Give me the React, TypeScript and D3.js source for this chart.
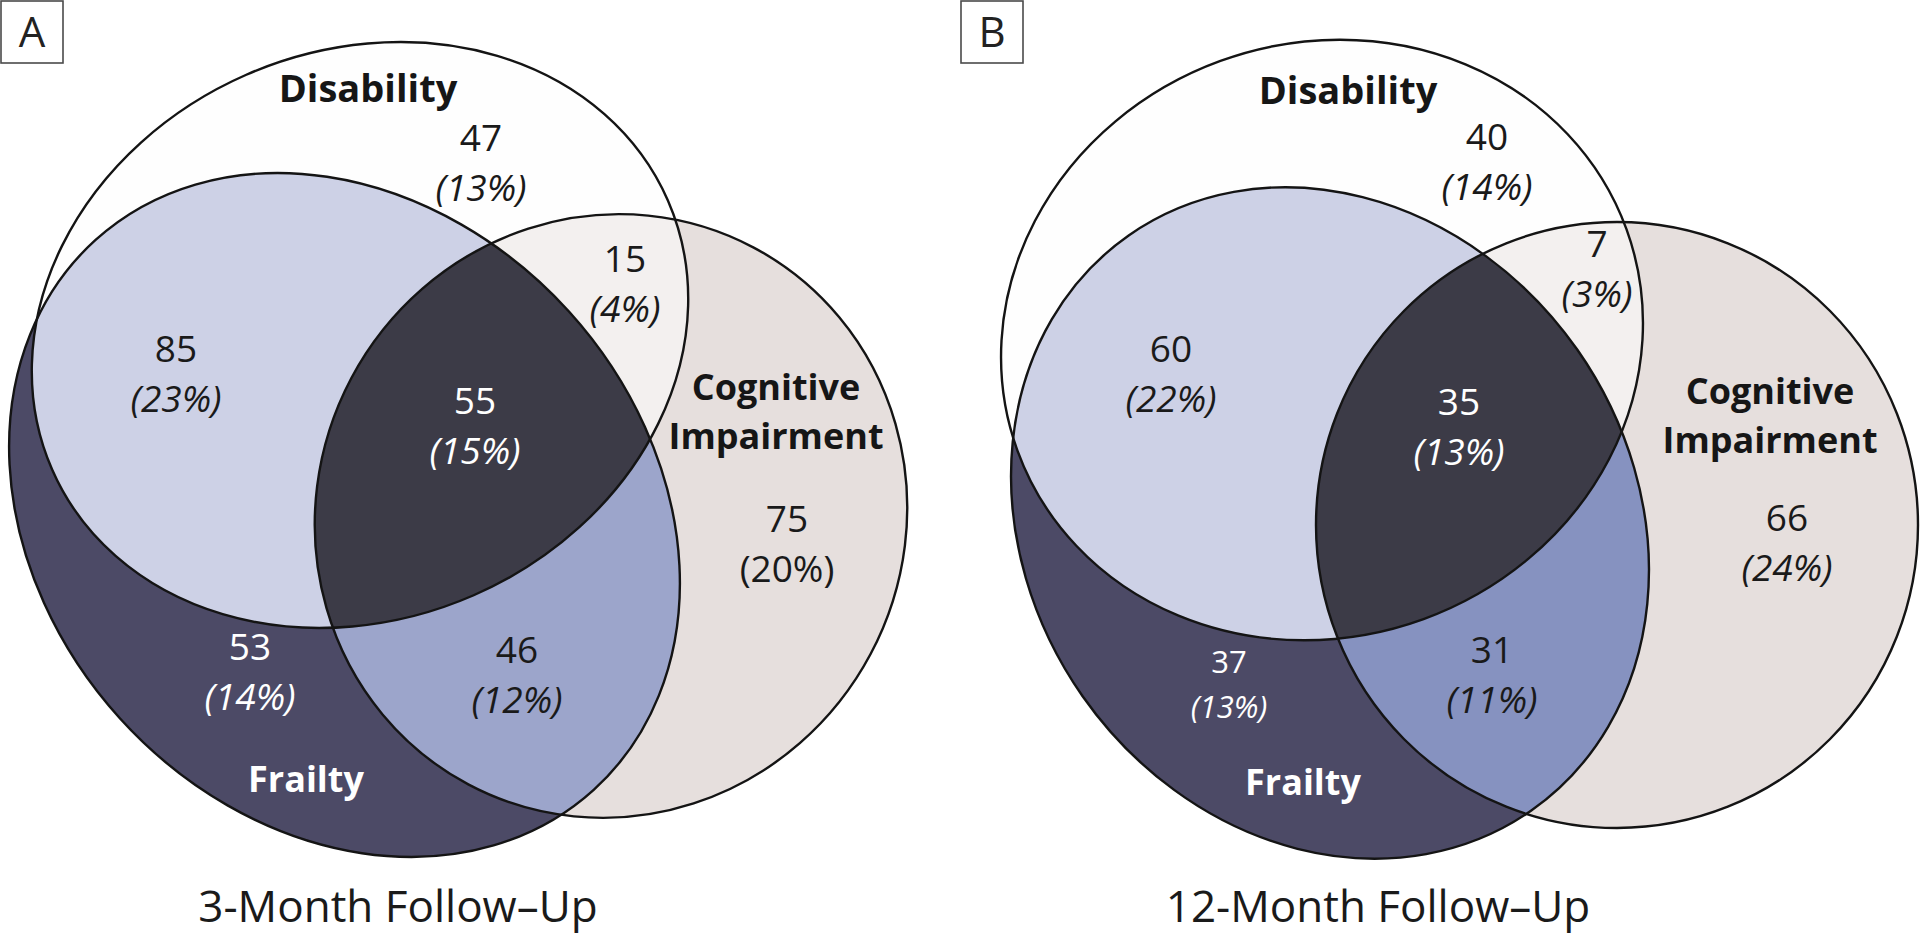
import React from "react";
import * as d3 from "d3";

// ---------- data ----------
const panelIds = ["A", "B"];
const panelTitles = ["3-Month Follow\u2013Up", "12-Month Follow\u2013Up"];
const setLabels = ["Disability", "Frailty", "Cognitive", "Impairment"];
// region order: D only, F only, C only, D∩F, D∩C, F∩C, D∩F∩C
const regionKeys = ["D", "F", "C", "DF", "DC", "FC", "DFC"];
const countsA = [47, 53, 75, 85, 15, 46, 55];
const pctA = [13, 14, 20, 23, 4, 12, 15];
const countsB = [40, 37, 66, 60, 7, 31, 35];
const pctB = [14, 13, 24, 22, 3, 11, 13];

// ---------- layout (pixels) ----------
type Ell = { cx: number; cy: number; rx: number; ry: number; rot: number };
const shapesA: Record<string, Ell> = {
  D: { cx: 360, cy: 335, rx: 336, ry: 284, rot: -23.6 },
  F: { cx: 344.5, cy: 515, rx: 371, ry: 303, rot: 47.8 },
  C: { cx: 611, cy: 516, rx: 304, ry: 294, rot: -62 },
};
const shapesB: Record<string, Ell> = {
  D: { cx: 1322, cy: 340, rx: 324, ry: 297, rot: -20 },
  F: { cx: 1330, cy: 523, rx: 351, ry: 302, rot: 55 },
  C: { cx: 1617, cy: 525, rx: 301, ry: 303, rot: 0 },
};
// label anchor (x, baseline of count) per region
const labelPosA: [number, number][] = [
  [481, 151], [250, 660], [787, 532], [176, 362], [625, 272], [517, 663], [475, 414],
];
const labelPosB: [number, number][] = [
  [1487, 150], [1229, 673], [1787, 531], [1171, 362], [1597, 257], [1492, 663], [1459, 415],
];
const setLabelPosA: [number, number][] = [[368, 102], [306, 792], [776, 400], [776, 449]];
const setLabelPosB: [number, number][] = [[1348, 104], [1303, 795], [1770, 404], [1770, 453]];
const titlePos: [number, number][] = [[398, 922], [1378, 922]];
const boxPos: [number, number][] = [[1, 1], [961, 1]];

const fillScaleA = d3
  .scaleOrdinal<string, string>()
  .domain(regionKeys)
  .range(["#fefefe", "#4c4a66", "#e6dfdd", "#cdd1e6", "#f3f0ef", "#9ca5cb", "#3c3b47"]);
const fillScaleB = d3
  .scaleOrdinal<string, string>()
  .domain(regionKeys)
  .range(["#fefefe", "#4c4a66", "#e6dfdd", "#cdd1e6", "#f3f0ef", "#8692c0", "#3c3b47"]);

const darkRegions = new Set(["F", "DFC"]);
const uprightPct = new Set(["A-C"]);
const FONT = "'Open Sans', 'Noto Sans', sans-serif";

function EllipseEl({ e, ...rest }: { e: Ell; [k: string]: any }) {
  return (
    <ellipse
      cx={e.cx}
      cy={e.cy}
      rx={e.rx}
      ry={e.ry}
      transform={`rotate(${e.rot} ${e.cx} ${e.cy})`}
      {...rest}
    />
  );
}

function Panel({ idx }: { idx: number }) {
  const id = panelIds[idx];
  const S = idx === 0 ? shapesA : shapesB;
  const fill = idx === 0 ? fillScaleA : fillScaleB;
  const counts = idx === 0 ? countsA : countsB;
  const pcts = idx === 0 ? pctA : pctB;
  const lpos = idx === 0 ? labelPosA : labelPosB;
  const spos = idx === 0 ? setLabelPosA : setLabelPosB;
  const [bx, by] = boxPos[idx];
  const [tx, ty] = titlePos[idx];
  const smallF = idx === 1;
  const clip = (k: string) => `url(#clip-${id}-${k})`;
  return (
    <g>
      <defs>
        {["D", "F", "C"].map((k) => (
          <clipPath id={`clip-${id}-${k}`} key={k}>
            <EllipseEl e={S[k]} />
          </clipPath>
        ))}
      </defs>
      <EllipseEl e={S.C} fill={fill("C")} />
      <EllipseEl e={S.F} fill={fill("F")} />
      <EllipseEl e={S.D} fill={fill("D")} />
      <g clipPath={clip("D")}>
        <EllipseEl e={S.F} fill={fill("DF")} />
      </g>
      <g clipPath={clip("D")}>
        <EllipseEl e={S.C} fill={fill("DC")} />
      </g>
      <g clipPath={clip("F")}>
        <EllipseEl e={S.C} fill={fill("FC")} />
      </g>
      <g clipPath={clip("D")}>
        <g clipPath={clip("F")}>
          <EllipseEl e={S.C} fill={fill("DFC")} />
        </g>
      </g>
      {["D", "F", "C"].map((k) => (
        <EllipseEl key={k} e={S[k]} fill="none" stroke="#141414" strokeWidth={2.4} />
      ))}

      {regionKeys.map((k, i) => {
        const [x, y] = lpos[i];
        const col = darkRegions.has(k) ? "#ffffff" : "#1a1a1a";
        const small = smallF && k === "F";
        const fs = small ? 31 : 37;
        const gap = small ? 45 : 50;
        return (
          <g key={k} fill={col} fontFamily={FONT} textAnchor="middle">
            <text x={x} y={y} fontSize={fs}>
              {counts[i]}
            </text>
            <text
              x={x}
              y={y + gap}
              fontSize={fs}
              fontStyle={uprightPct.has(`${id}-${k}`) ? "normal" : "italic"}
            >
              {`(${pcts[i]}%)`}
            </text>
          </g>
        );
      })}

      {setLabels.map((s, i) => (
        <text
          key={s}
          x={spos[i][0]}
          y={spos[i][1]}
          fontFamily={FONT}
          fontWeight={700}
          fontSize={i === 0 ? 38 : 36}
          textAnchor="middle"
          fill={i === 1 ? "#ffffff" : "#161616"}
        >
          {s}
        </text>
      ))}

      <rect x={bx} y={by} width={62} height={62} fill="#fff" stroke="#4a4a4a" strokeWidth={1.6} />
      <text
        x={bx + 31}
        y={by + 46}
        fontFamily={FONT}
        fontSize={42}
        textAnchor="middle"
        fill="#222"
      >
        {id}
      </text>

      <text x={tx} y={ty} fontFamily={FONT} fontSize={44} textAnchor="middle" fill="#1a1a1a">
        {panelTitles[idx]}
      </text>
    </g>
  );
}

export default function App() {
  return (
    <div style={{ position: "fixed", left: 0, top: 0, width: 1920, height: 935, background: "#fff" }}>
      <svg width={1920} height={935} viewBox="0 0 1920 935" style={{ display: "block" }}>
        <rect width={1920} height={935} fill="#ffffff" />
        {panelIds.map((_, i) => (
          <Panel key={i} idx={i} />
        ))}
      </svg>
    </div>
  );
}
